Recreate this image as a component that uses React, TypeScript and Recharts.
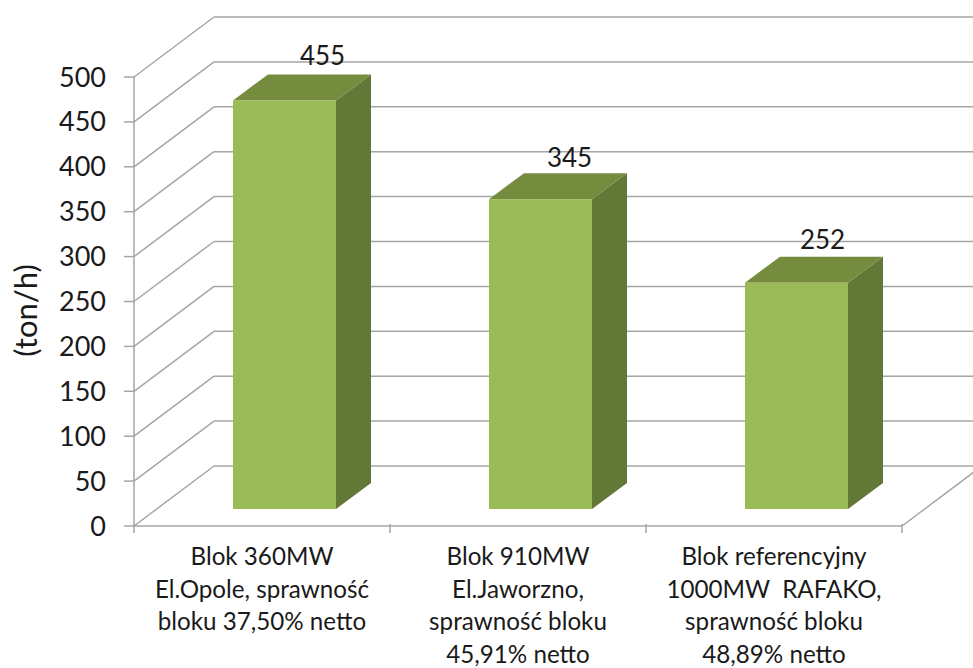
import { BarChart, Bar, XAxis, YAxis, CartesianGrid, LabelList } from "recharts";

const categories = [
  "Blok 360MW\nEl.Opole, sprawność\nbloku 37,50% netto",
  "Blok 910MW\nEl.Jaworzno,\nsprawność bloku\n45,91% netto",
  "Blok referencyjny\n1000MW  RAFAKO,\nsprawność bloku\n48,89% netto",
];
const values = [455, 345, 252];
const yTicks = [0, 50, 100, 150, 200, 250, 300, 350, 400, 450, 500];

const data = categories.map((name, i) => ({ name, value: values[i] }));

const font = "Lato, sans-serif";
const gridColor = "#a6a6a6";
const textColor = "#1a1a1a";

// 3d look: back wall offset and bar offset on the floor
const wallX = 80;
const wallY = -60;
const barShiftX = 22;
const barShiftY = -17;
const depthX = 35;
const depthY = -26;
const labelShiftX = [38, 29, 26];
const labelShiftY = [-35, -32, -34];

function WallLine(props: any) {
  const { x1, y1, x2 } = props;
  return (
    <g>
      <line x1={x1} y1={y1} x2={x1 + wallX} y2={y1 + wallY} stroke={gridColor} strokeWidth={1.5} />
      <line x1={x1 + wallX} y1={y1 + wallY} x2={x2 + wallX} y2={y1 + wallY} stroke={gridColor} strokeWidth={1.5} />
      {y1 > 500 ? (
        <line x1={x2} y1={y1} x2={x2 + wallX} y2={y1 + wallY} stroke={gridColor} strokeWidth={1.5} />
      ) : null}
    </g>
  );
}

function Bar3D(props: any) {
  const { x, y, width, height } = props;
  const l = x + barShiftX;
  const r = l + width;
  const t = y + barShiftY;
  const b = t + height;
  return (
    <g>
      <polygon
        points={`${r},${t} ${r + depthX},${t + depthY} ${r + depthX},${b + depthY} ${r},${b}`}
        fill="#617836"
      />
      <polygon
        points={`${l},${t} ${l + depthX},${t + depthY} ${r + depthX},${t + depthY} ${r},${t}`}
        fill="#758C3F"
      />
      <rect x={l} y={t} width={width} height={height} fill="#9BBB59" />
    </g>
  );
}

function BarValue(props: any) {
  const { x, y, width, value, index } = props;
  return (
    <text
      x={x + width / 2 + barShiftX + labelShiftX[index]}
      y={y + barShiftY + labelShiftY[index]}
      textAnchor="middle"
      fontFamily={font}
      fontSize={26}
      fill={textColor}
    >
      {value}
    </text>
  );
}

function CategoryTick(props: any) {
  const { x, y, payload, index } = props;
  const half = payload.offset || 128;
  const lines = String(payload.value).split("\n");
  return (
    <g>
      <line x1={x - half} y1={y - 8} x2={x - half} y2={y + 1} stroke={gridColor} strokeWidth={1.5} />
      {index === categories.length - 1 ? (
        <line x1={x + half} y1={y - 8} x2={x + half} y2={y + 1} stroke={gridColor} strokeWidth={1.5} />
      ) : null}
      {lines.map((line, i) => (
        <text
          key={i}
          x={x}
          y={y + 33 + i * 32.5}
          textAnchor="middle"
          fontFamily={font}
          fontSize={24.2}
          fill={textColor}
          xmlSpace="preserve"
        >
          {line}
        </text>
      ))}
    </g>
  );
}

export default function App() {
  return (
    <div style={{ position: "absolute", left: 0, top: 0, width: 973, height: 668, background: "#fff" }}>
      <BarChart
        width={973}
        height={668}
        data={data}
        margin={{ top: 77, right: 71, bottom: 0, left: 0 }}
      >
        <CartesianGrid horizontal={WallLine as any} vertical={false} />
        <XAxis
          dataKey="name"
          height={142}
          interval={0}
          tickLine={false}
          axisLine={{ stroke: gridColor, strokeWidth: 1.5 }}
          tick={CategoryTick as any}
          tickMargin={0}
        />
        <YAxis
          width={134}
          domain={[0, 500]}
          ticks={yTicks}
          interval={0}
          tickSize={10}
          tickMargin={18}
          axisLine={{ stroke: gridColor, strokeWidth: 1.5 }}
          tickLine={{ stroke: gridColor, strokeWidth: 1.5 }}
          tick={{ fontFamily: font, fontSize: 27, fill: textColor }}
          label={{
            value: "(ton/h)",
            angle: -90,
            position: "insideLeft",
            offset: 26,
            dy: 9,
            style: { fontFamily: font, fontSize: 31, fill: textColor, textAnchor: "middle" },
          }}
        />
        <Bar dataKey="value" barSize={103} shape={Bar3D as any} isAnimationActive={false}>
          <LabelList dataKey="value" content={BarValue as any} />
        </Bar>
      </BarChart>
    </div>
  );
}
